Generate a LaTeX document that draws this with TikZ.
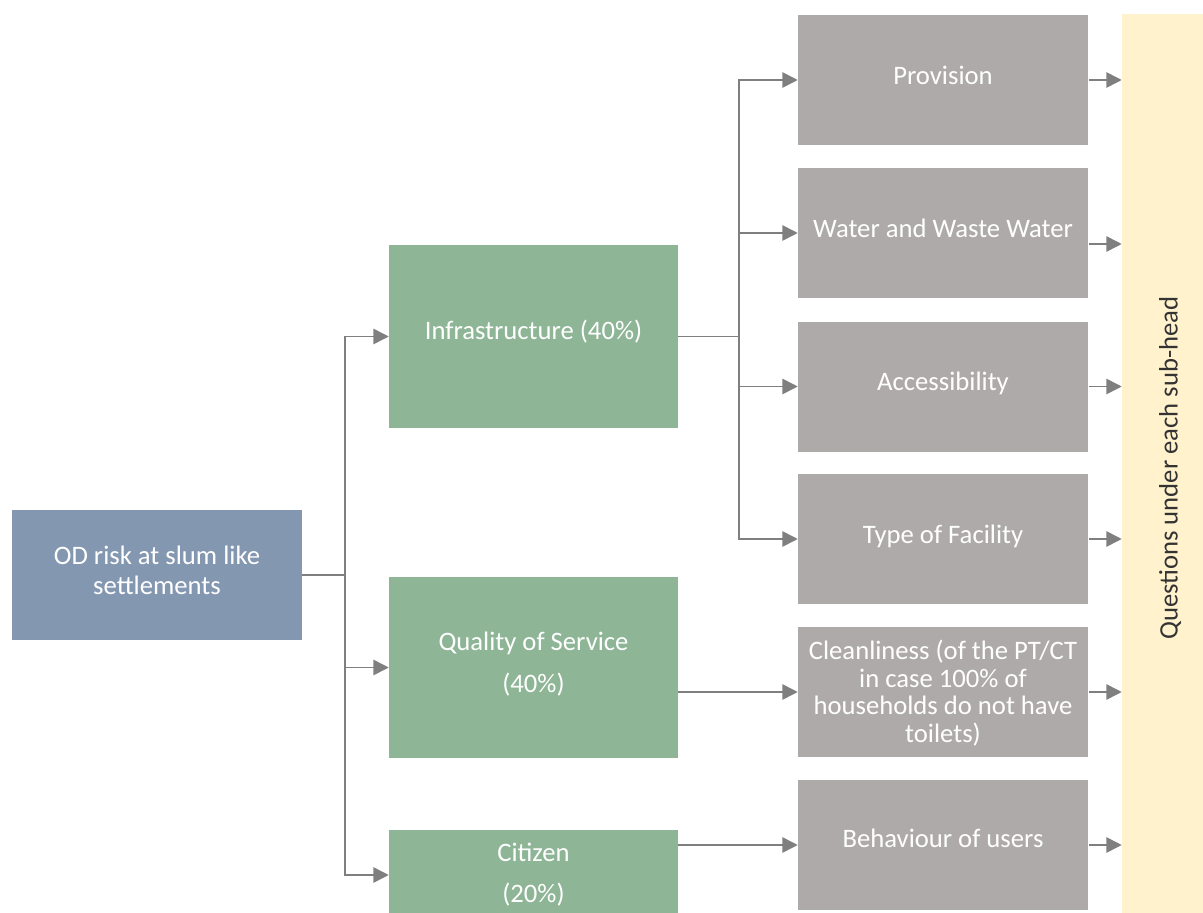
\documentclass[tikz,border=0pt]{standalone}
\usepackage{fontspec}
\setmainfont{Carlito}
\usetikzlibrary{arrows.meta}
\definecolor{odblue}{HTML}{8497B0}
\definecolor{grn}{HTML}{8DB596}
\definecolor{gry}{HTML}{AEAAAA}
\definecolor{ylw}{HTML}{FFF2CC}
\definecolor{lnc}{HTML}{7F7F7F}
\begin{document}
\begin{tikzpicture}[x=0.75pt,y=-0.75pt,
  box/.style={draw=none,inner sep=0pt,minimum width=217.5pt,minimum height=97.5pt},
  bluebox/.style={box,fill=odblue},
  grnbox/.style={box,fill=grn,minimum width=216.75pt},
  grybox/.style={box,fill=gry},
  txt/.style={text=white,font=\fontsize{20}{24}\selectfont,align=center,inner sep=0pt},
  ln/.style={draw=lnc,line width=1.2pt},
  arr/.style={ln,-{Triangle[length=11.5pt,width=11.5pt]}}]
\useasboundingbox (0,0) rectangle (1203,913);
% yellow bar
\node[box,fill=ylw,minimum width=60.75pt,minimum height=674.25pt] (q) at (1162.5,463.5) {};
\node[rotate=90,font=\fontsize{20}{24}\selectfont,text=black!80,inner sep=0pt] (qt) at (1170,468) {Questions under each sub-head};
% left
\node[bluebox] (od) at (157,575) {};
\node[txt,font=\fontsize{20}{22.5}\selectfont] (odt) at (157,570) {OD risk at slum like\\settlements};
% middle
\node[grnbox,minimum height=137.25pt] (inf) at (533.5,336.5) {};
\node[txt] (inft) at (533.5,332) {Infrastructure (40\%)};
\node[grnbox,minimum height=135.75pt] (qos) at (533.5,667.5) {};
\node[txt,font=\fontsize{20}{32}\selectfont] (qost) at (533.5,664) {Quality of Service\\(40\%)};
\node[grnbox,minimum height=62.25pt] (cit) at (533.5,871.5) {};
\node[txt,font=\fontsize{20}{31}\selectfont] (citt) at (533.5,874.5) {Citizen\\(20\%)};
% right
\node[grybox] (prov) at (943,80) {};
\node[txt] (provt) at (943,75) {Provision};
\node[grybox] (wat) at (943,233) {};
\node[txt] (watt) at (943,228) {Water and Waste Water};
\node[grybox] (acc) at (943,386.5) {};
\node[txt] (acct) at (943,383) {Accessibility};
\node[grybox] (typ) at (943,539) {};
\node[txt] (typt) at (943,536) {Type of Facility};
\node[grybox] (cln) at (943,692) {};
\node[txt,font=\fontsize{20}{20.6}\selectfont] (clnt) at (943,693) {Cleanliness (of the PT/CT\\in case 100\% of\\households do not have\\toilets)};
\node[grybox] (beh) at (943,845) {};
\node[txt] (beht) at (943,838) {Behaviour of users};
% connectors
\coordinate (j1) at (345,575);
\coordinate (c875) at (0,875);
\draw[ln] (od.east) -- (j1);
\draw[arr] (j1) |- (inf.west);
\draw[arr] (j1) |- (qos.west);
\draw[arr] (j1) |- (cit.west |- c875);
\coordinate (j2) at (739,336.5);
\draw[ln] (inf.east) -- (j2);
\draw[arr] (j2) |- (prov.west);
\draw[arr] (j2) |- (wat.west);
\draw[arr] (j2) |- (acc.west);
\draw[arr] (j2) |- (typ.west);
\draw[arr] (qos.east |- cln.west) -- (cln.west);
\draw[arr] (cit.east |- beh.west) -- (beh.west);
% to yellow bar
\coordinate (w244) at (0,244);
\draw[arr] ([xshift=0.75pt]prov.east) -- (q.west |- prov.east);
\draw[arr] ([xshift=0.75pt]wat.east |- w244) -- (q.west |- w244);
\draw[arr] ([xshift=0.75pt]acc.east) -- (q.west |- acc.east);
\draw[arr] ([xshift=0.75pt]typ.east) -- (q.west |- typ.east);
\draw[arr] ([xshift=0.75pt]cln.east) -- (q.west |- cln.east);
\draw[arr] ([xshift=0.75pt]beh.east) -- (q.west |- beh.east);
\end{tikzpicture}
\end{document}
